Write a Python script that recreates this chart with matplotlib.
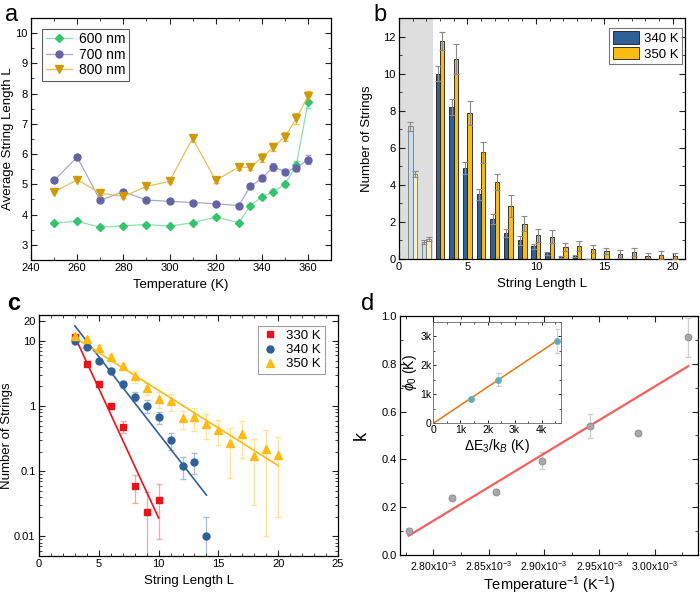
import numpy as np
import matplotlib
matplotlib.use("Agg")
import matplotlib.pyplot as plt
from matplotlib.ticker import MultipleLocator, FixedLocator, LogLocator, NullFormatter, FuncFormatter
from matplotlib.patches import Patch
from matplotlib.lines import Line2D

plt.rcParams['font.family'] = ['Liberation Sans', 'DejaVu Sans']
plt.rcParams['mathtext.fontset'] = 'custom'
plt.rcParams['mathtext.rm'] = 'Liberation Sans'
plt.rcParams['mathtext.it'] = 'Liberation Sans:italic'

# ---------------- Panel a data ----------------
temps_a = [250, 260, 270, 280, 290, 300, 310, 320, 330, 335, 340, 345, 350, 355, 360]
len_600 = [3.72, 3.78, 3.58, 3.63, 3.67, 3.62, 3.73, 3.92, 3.73, 4.30, 4.58, 4.76, 5.00, 5.65, 7.72]
err_600 = [0.04, 0.04, 0.04, 0.04, 0.04, 0.04, 0.04, 0.05, 0.05, 0.06, 0.07, 0.08, 0.08, 0.12, 0.20]
len_700 = [5.13, 5.90, 4.47, 4.76, 4.48, 4.44, 4.40, 4.36, 4.30, 4.93, 5.20, 5.58, 5.42, 5.55, 5.82]
err_700 = [0.05, 0.05, 0.05, 0.05, 0.05, 0.05, 0.05, 0.05, 0.05, 0.08, 0.10, 0.13, 0.09, 0.10, 0.15]
len_800 = [4.75, 5.15, 4.71, 4.60, 4.93, 5.10, 6.52, 5.13, 5.57, 5.56, 5.88, 6.23, 6.58, 7.18, 7.92]
err_800 = [0.05, 0.05, 0.05, 0.05, 0.05, 0.05, 0.12, 0.07, 0.08, 0.08, 0.15, 0.13, 0.15, 0.17, 0.17]

# ---------------- Panel b / c data ----------------
L_vals = list(range(1, 21))
n_340 = [7.15, 0.90, 10.0, 8.2, 4.9, 3.5, 2.15, 1.4, 1.0, 0.68, 0.30, 0.12, 0.14, 0.01, 0, 0, 0, 0, 0, 0]
e_340 = [0.25, 0.10, 0.40, 0.45, 0.32, 0.30, 0.27, 0.22, 0.22, 0.14, 0.09, 0.045, 0.05, 0.01, 0, 0, 0, 0, 0, 0]
n_350 = [4.6, 1.08, 11.75, 10.8, 7.9, 5.75, 4.15, 2.85, 1.9, 1.28, 1.2, 0.65, 0.68, 0.53, 0.43, 0.27, 0.37, 0.17, 0.22, 0.18]
e_350 = [0.15, 0.12, 0.50, 0.80, 0.65, 0.55, 0.45, 0.60, 0.40, 0.35, 0.35, 0.20, 0.27, 0.22, 0.18, 0.19, 0.21, 0.14, 0.21, 0.16]

L_330 = [3, 4, 5, 6, 7, 8, 9, 10]
n_330 = [11.5, 4.5, 2.15, 1.0, 0.48, 0.060, 0.024, 0.036]
e_330 = [0.5, 0.3, 0.2, 0.1, 0.1, 0.027, 0.024, 0.027]

# exponential fits (start L, end L, value at start, value at end)
fit_330 = (3, 10, 11.6, 0.0192)
fit_340 = (3, 14, 17.0, 0.043)
fit_350 = (3, 20, 11.2, 0.122)

# ---------------- Panel d data ----------------
temps_d = [360, 355, 350, 345, 340, 335, 330]
k_vals = [0.10, 0.24, 0.265, 0.395, 0.54, 0.51, 0.91]
k_err = [0.012, 0.01, 0.01, 0.035, 0.05, 0.01, 0.08]
k_fit_ends = (0.08, 0.79)

# inset
dE = [1400, 2400, 4550]
phi0 = [850, 1500, 2830]
phi0_err = [60, 220, 420]
inset_slope = 0.624
inset_xmax = 4600

# ---------------- styles ----------------
c_green, c_purple, c_gold = '#35c46e', '#6662a4', '#cc9a0a'
l_green, l_purple, l_gold = '#8fe0b0', '#aaa8d0', '#e5c15a'
c_blue, c_yellow, c_red = '#2f6098', '#fbbb12', '#e8141c'

fig = plt.figure(figsize=(7.0, 5.96), dpi=100)

def style_axes(ax, size=8):
    ax.tick_params(which='both', direction='in', top=True, right=True, labelsize=size,
                   color='#222', pad=2.5)
    ax.tick_params(which='major', length=4, width=0.8)
    ax.tick_params(which='minor', length=2, width=0.6)
    for s in ax.spines.values():
        s.set_linewidth(0.9)

# ---- a ----
axa = fig.add_axes([0.0443, 0.5638, 0.4287, 0.406])
series_a = [(len_600, err_600, 'D', 4, c_green, l_green, '600 nm'),
            (len_700, err_700, 'o', 5, c_purple, l_purple, '700 nm'),
            (len_800, err_800, 'v', 5.5, c_gold, l_gold, '800 nm')]
handles_a = []
for vals, errs, mk, ms, cd, cl, lab in series_a:
    axa.errorbar(temps_a, vals, yerr=errs, color=cl, marker=mk, ms=ms, lw=0.9,
                 mfc=cd, mec=cd, ecolor=cl, elinewidth=0.8, capsize=2)
    handles_a.append(Line2D([], [], color=cl, lw=0.9, marker=mk, ms=ms, mfc=cd, mec=cd, label=lab))
axa.set_xlim(240, 370)
axa.set_ylim(2.5, 10.5)
axa.xaxis.set_major_locator(MultipleLocator(20))
axa.xaxis.set_minor_locator(MultipleLocator(10))
axa.yaxis.set_major_locator(MultipleLocator(1))
axa.yaxis.set_minor_locator(MultipleLocator(0.5))
style_axes(axa)
axa.set_xlabel('Temperature (K)', fontsize=9.5, labelpad=4)
axa.set_ylabel('Average String Length L', fontsize=9.5, labelpad=1)
leg = axa.legend(handles=handles_a, loc='upper left', fontsize=10, frameon=True, fancybox=False,
                 edgecolor='#333', handlelength=1.9, borderpad=0.25, labelspacing=0.1,
                 handletextpad=0.5, borderaxespad=0, bbox_to_anchor=(0.038, 0.955))
leg.get_frame().set_linewidth(0.8)
fig.text(0.007, 0.975, 'a', fontsize=17, va='center')

# ---- b ----
axb = fig.add_axes([0.570, 0.5654, 0.4086, 0.4044])
bw = 0.32
axb.axvspan(0, 2.5, color='#dedede', zorder=0, lw=0)
L_arr = np.array(L_vals, dtype=float)
for i, L in enumerate(L_vals):
    shaded = L < 2.5
    cb = '#c9ddf0' if shaded else c_blue
    cy = '#fdf0c4' if shaded else c_yellow
    ec = '#777' if shaded else '#1a1a1a'
    axb.bar(L - bw / 2, n_340[i], width=bw, color=cb, edgecolor=ec, lw=0.6, zorder=2)
    axb.bar(L + bw / 2, n_350[i], width=bw, color=cy, edgecolor=ec, lw=0.6, zorder=2)
mask340 = np.array(n_340) > 0
axb.errorbar(L_arr[mask340] - bw / 2, np.array(n_340)[mask340], yerr=np.array(e_340)[mask340],
             fmt='none', ecolor='#8a8a8a', elinewidth=0.8, capsize=2.2, capthick=0.8, zorder=3)
axb.errorbar(L_arr + bw / 2, n_350, yerr=e_350,
             fmt='none', ecolor='#8a8a8a', elinewidth=0.8, capsize=2.2, capthick=0.8, zorder=3)
axb.set_xlim(0, 20.9)
axb.set_ylim(0, 13)
axb.xaxis.set_major_locator(MultipleLocator(5))
axb.xaxis.set_minor_locator(MultipleLocator(1))
axb.yaxis.set_major_locator(MultipleLocator(2))
axb.yaxis.set_minor_locator(MultipleLocator(1))
style_axes(axb)
axb.set_xlabel('String Length L', fontsize=9.5, labelpad=4)
axb.set_ylabel('Number of Strings', fontsize=9.5, labelpad=7)
handles_b = [Patch(facecolor=c_blue, edgecolor='#1a1a1a', lw=0.6, label='340 K'),
             Patch(facecolor=c_yellow, edgecolor='#1a1a1a', lw=0.6, label='350 K')]
legb = axb.legend(handles=handles_b, loc='upper right', fontsize=9.5, fancybox=False,
                  edgecolor='#555', handlelength=2.0, handleheight=1.1, borderpad=0.25,
                  labelspacing=0.15, handletextpad=0.4, borderaxespad=0,
                  bbox_to_anchor=(0.99, 0.96))
legb.get_frame().set_linewidth(0.8)
fig.text(0.533, 0.975, 'b', fontsize=17, va='center')

# ---- c ----
axc = fig.add_axes([0.0557, 0.0671, 0.4272, 0.4044])
def fit_line(ax, fit, color):
    x0, x1, y0, y1 = fit
    xs = np.linspace(x0, x1, 50)
    ys = np.exp(np.log(y0) + (np.log(y1) - np.log(y0)) * (xs - x0) / (x1 - x0))
    ax.plot(xs, ys, color=color, lw=1.2, zorder=3)

L_c = L_arr[2:]
n350_c = np.array(n_350)[2:]
e350_c = np.array(e_350)[2:]
m340 = np.array(n_340)[2:] > 0
L340_c = L_c[m340]
n340_c = np.array(n_340)[2:][m340]
e340_c = np.array(e_340)[2:][m340]

axc.errorbar(L_c, n350_c, yerr=e350_c, fmt='none', ecolor='#fde39a', elinewidth=0.9,
             capsize=2.2, zorder=1)
axc.errorbar(L340_c, n340_c, yerr=e340_c, fmt='none', ecolor='#a9bfd8', elinewidth=0.9,
             capsize=2.2, zorder=1)
axc.errorbar(L_330, n_330, yerr=e_330, fmt='none', ecolor='#f7a6a9', elinewidth=0.9,
             capsize=2.2, zorder=1)
fit_line(axc, fit_330, c_red)
fit_line(axc, fit_340, c_blue)
fit_line(axc, fit_350, c_yellow)
axc.plot(L_330, n_330, 's', color=c_red, ms=4.5, ls='none', label='330 K', zorder=4)
axc.plot(L340_c, n340_c, 'o', color=c_blue, ms=5, ls='none', label='340 K', zorder=4)
axc.plot(L_c, n350_c, '^', color=c_yellow, ms=5.5, ls='none', label='350 K', zorder=5)
axc.set_yscale('log')
axc.set_xlim(0, 25)
axc.set_ylim(0.005, 25)
axc.xaxis.set_major_locator(MultipleLocator(5))
axc.xaxis.set_minor_locator(MultipleLocator(1))
axc.yaxis.set_major_locator(FixedLocator([0.01, 0.1, 1, 10, 20]))
axc.yaxis.set_minor_locator(LogLocator(base=10, subs=np.arange(2, 10)))
axc.yaxis.set_minor_formatter(NullFormatter())
axc.yaxis.set_major_formatter(FuncFormatter(lambda v, p: ('%g' % v)))
style_axes(axc)
axc.set_xlabel('String Length L', fontsize=9.5, labelpad=4)
axc.set_ylabel('Number of Strings', fontsize=9.5, labelpad=1)
legc = axc.legend(loc='upper right', fontsize=9.5, fancybox=False, edgecolor='#888',
                  handlelength=1.2, borderpad=0.3, labelspacing=0.15, handletextpad=0.6,
                  borderaxespad=0, bbox_to_anchor=(0.955, 0.955))
legc.get_frame().set_linewidth(0.8)
fig.text(0.01, 0.49, 'c', fontsize=17, va='center', fontweight='bold')

# ---- d ----
axd = fig.add_axes([0.5714, 0.0690, 0.4256, 0.4008])
inv_T = 1.0 / np.array(temps_d, dtype=float)
axd.errorbar(inv_T, k_vals, yerr=k_err, fmt='none', ecolor='#cfcfcf', elinewidth=0.9,
             capsize=2.2, zorder=1)
axd.plot([inv_T.min(), inv_T.max()], k_fit_ends, color='#f26060', lw=1.6, zorder=2)
axd.plot(inv_T, k_vals, 'o', color='#a8a8a8', mec='#8c8c8c', mew=0.6, ms=5, zorder=3)
axd.set_xlim(2.770e-3, 3.039e-3)
axd.set_ylim(0, 1.0)
axd.xaxis.set_major_locator(MultipleLocator(0.05e-3))
axd.xaxis.set_minor_locator(MultipleLocator(0.025e-3))
axd.yaxis.set_major_locator(MultipleLocator(0.2))
axd.yaxis.set_minor_locator(MultipleLocator(0.1))
axd.xaxis.set_major_formatter(FuncFormatter(lambda v, p: '%.2fx10$^{-3}$' % (v * 1e3)))
axd.yaxis.set_major_formatter(FuncFormatter(lambda v, p: '%.1f' % v))
style_axes(axd)
axd.tick_params(axis='x', labelsize=7.5, pad=3)
axd.set_xlabel('Temperature$^{-1}$ (K$^{-1}$)', fontsize=10.5, labelpad=1)
axd.set_ylabel('k', fontsize=13, labelpad=8)
fig.text(0.515, 0.49, 'd', fontsize=17, va='center')

# inset
axi = fig.add_axes([0.619, 0.2898, 0.182, 0.1704])
xs_i = np.linspace(0, inset_xmax, 20)
axi.errorbar(dE, phi0, yerr=phi0_err, fmt='none', ecolor='#cfcfcf', elinewidth=0.8,
             capsize=1.8, zorder=1)
axi.plot(xs_i, inset_slope * xs_i, color='#e07a10', lw=1.1, zorder=2)
axi.plot(dE, phi0, 'o', color='#5fa8b4', ms=4, mec='#6fb0b8', zorder=3)
axi.set_xlim(0, 4700)
axi.set_ylim(0, 3500)
axi.xaxis.set_major_locator(MultipleLocator(1000))
axi.xaxis.set_minor_locator(MultipleLocator(500))
axi.yaxis.set_major_locator(MultipleLocator(1000))
axi.yaxis.set_minor_locator(MultipleLocator(500))
kfmt = FuncFormatter(lambda v, p: '0' if v == 0 else '%dk' % round(v / 1000))
axi.xaxis.set_major_formatter(kfmt)
axi.yaxis.set_major_formatter(kfmt)
axi.tick_params(which='both', direction='in', top=True, right=True, labelsize=7.5, pad=1.5)
axi.tick_params(which='major', length=2.5, width=0.6)
axi.tick_params(which='minor', length=1.5, width=0.5)
for s in axi.spines.values():
    s.set_linewidth(0.6)
    s.set_color('#666')
axi.set_xlabel(r'$\Delta$E$_3$/k$_B$ (K)', fontsize=10, labelpad=1)
axi.set_ylabel(r'$\phi_0$ (K)', fontsize=10, labelpad=1)

fig.savefig('out.png', dpi=100)
